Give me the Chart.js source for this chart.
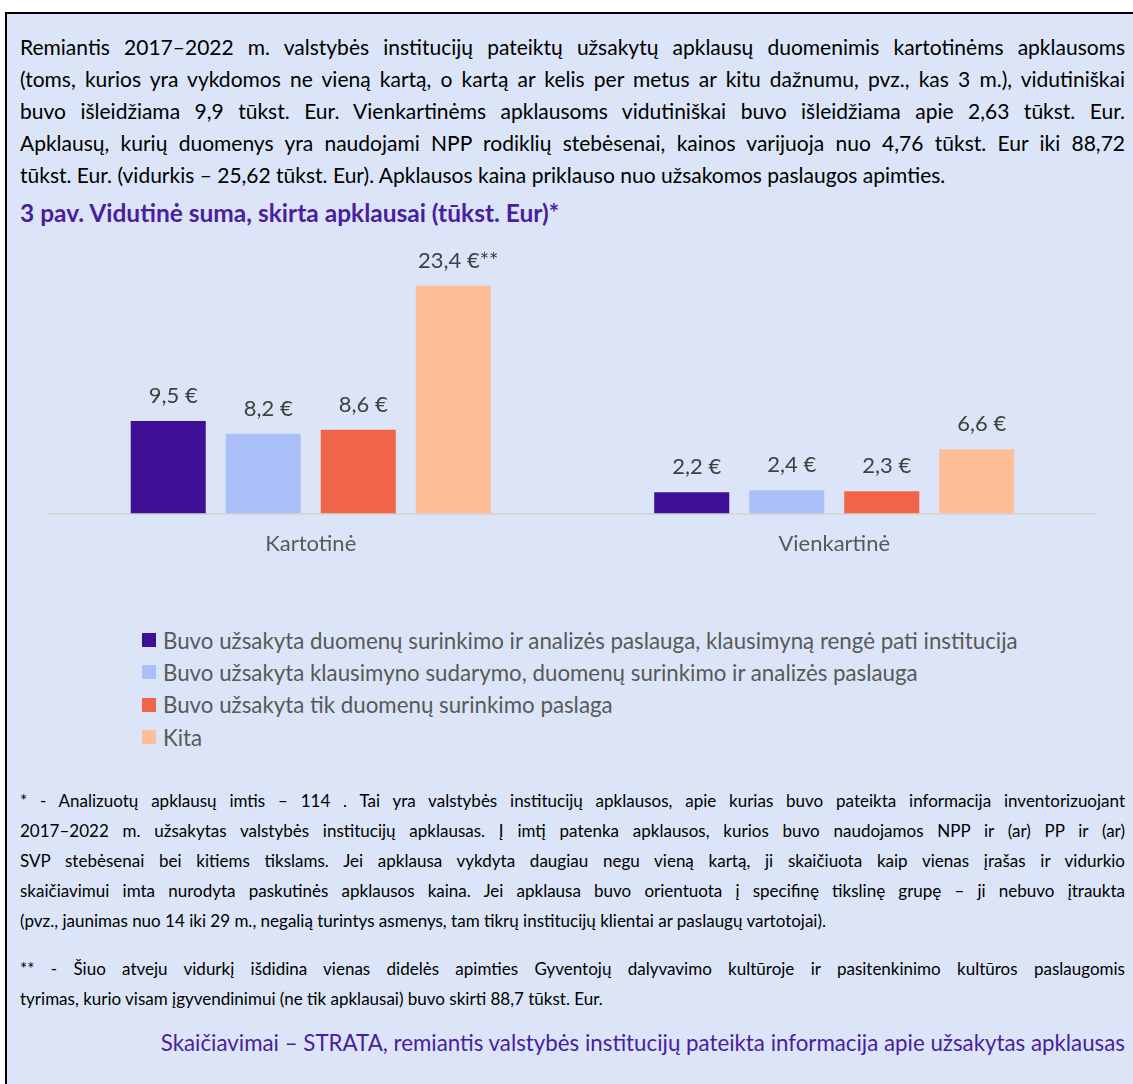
<!DOCTYPE html>
<html lang="lt">
<head>
<meta charset="utf-8">
<script src="https://cdn.jsdelivr.net/npm/chart.js@4.4.1/dist/chart.umd.min.js"></script>
<style>
  html, body { margin: 0; padding: 0; background: #ffffff; }
  body { width: 1133px; height: 1084px; position: relative; overflow: hidden; font-family: Lato, "Noto Sans", sans-serif; }
  #box {
    position: absolute; left: 5px; top: 12px; width: 1140px; height: 1100px;
    background: #dbe5f7; border-left: 2px solid #000; border-top: 2px solid #000;
  }
  .ln { position: absolute; left: 20px; width: 1105px; white-space: nowrap; text-align: justify; text-align-last: justify; color: #000; }
  .ln.last { text-align-last: left; }
  .body { font-size: 21px; line-height: 24px; }
  .foot { font-size: 17px; line-height: 22px; }
  #title { position: absolute; left: 20px; top: 200px; font-size: 24.5px; font-weight: bold; color: #4a1e9e; line-height: 26px; }
  #chartWrap { position: absolute; left: 0; top: 230px; width: 1133px; height: 360px; }
  #legend { position: absolute; left: 142px; top: 624px; }
  .lg { height: 32.3px; display: flex; align-items: center; font-size: 22.3px; color: #595959; white-space: nowrap; }
  .lg i { display: inline-block; width: 14px; height: 14px; margin-right: 7px; }
  #source { position: absolute; right: 8px; top: 1029px; font-size: 22.3px; color: #4a1e9e; white-space: nowrap; }
</style>
</head>
<body>
<div id="box"></div>

<div class="ln body" style="top:35px">Remiantis 2017–2022 m. valstybės institucijų pateiktų užsakytų apklausų duomenimis kartotinėms apklausoms</div>
<div class="ln body" style="top:67px">(toms, kurios yra vykdomos ne vieną kartą, o kartą ar kelis per metus ar kitu dažnumu, pvz., kas 3 m.), vidutiniškai</div>
<div class="ln body" style="top:99px">buvo išleidžiama 9,9 tūkst. Eur. Vienkartinėms apklausoms vidutiniškai buvo išleidžiama apie 2,63 tūkst. Eur.</div>
<div class="ln body" style="top:131px">Apklausų, kurių duomenys yra naudojami NPP rodiklių stebėsenai, kainos varijuoja nuo 4,76 tūkst. Eur iki 88,72</div>
<div class="ln body last" style="top:163px">tūkst. Eur. (vidurkis – 25,62 tūkst. Eur). Apklausos kaina priklauso nuo užsakomos paslaugos apimties.</div>

<div id="title">3 pav. Vidutinė suma, skirta apklausai (tūkst. Eur)*</div>

<div id="chartWrap"><canvas id="chart" width="1133" height="360"></canvas></div>

<div id="legend"></div>

<div class="ln foot" style="top:790px">* - Analizuotų apklausų imtis – 114 . Tai yra valstybės institucijų apklausos, apie kurias buvo pateikta informacija inventorizuojant</div>
<div class="ln foot" style="top:820px">2017–2022 m. užsakytas valstybės institucijų apklausas. Į imtį patenka apklausos, kurios buvo naudojamos NPP ir (ar) PP ir (ar)</div>
<div class="ln foot" style="top:850px">SVP stebėsenai bei kitiems tikslams. Jei apklausa vykdyta daugiau negu vieną kartą, ji skaičiuota kaip vienas įrašas ir vidurkio</div>
<div class="ln foot" style="top:880px">skaičiavimui imta nurodyta paskutinės apklausos kaina. Jei apklausa buvo orientuota į specifinę tikslinę grupę – ji nebuvo įtraukta</div>
<div class="ln foot last" style="top:910px">(pvz., jaunimas nuo 14 iki 29 m., negalią turintys asmenys, tam tikrų institucijų klientai ar paslaugų vartotojai).</div>
<div class="ln foot" style="top:958px">** - Šiuo atveju vidurkį išdidina vienas didelės apimties Gyventojų dalyvavimo kultūroje ir pasitenkinimo kultūros paslaugomis</div>
<div class="ln foot last" style="top:988px">tyrimas, kurio visam įgyvendinimui (ne tik apklausai) buvo skirti 88,7 tūkst. Eur.</div>

<div id="source">Skaičiavimai – STRATA, remiantis valstybės institucijų pateikta informacija apie užsakytas apklausas</div>

<script>
// ---- data ----
const categories = ["Kartotinė", "Vienkartinė"];
const seriesNames = [
  "Buvo užsakyta duomenų surinkimo ir analizės paslauga, klausimyną rengė pati institucija",
  "Buvo užsakyta klausimyno sudarymo, duomenų surinkimo ir analizės paslauga",
  "Buvo užsakyta tik duomenų surinkimo paslaga",
  "Kita"
];
const ownQuestionnaire = [9.5, 2.2];
const fullService = [8.2, 2.4];
const collectionOnly = [8.6, 2.3];
const other = [23.4, 6.6];
// footnote marks next to the value labels
const otherNotes = ["**", ""];

const seriesColors = ["#3f0f96", "#aabff8", "#f0654a", "#ffbd98"];

// ---- value labels above bars ----
const valueLabels = {
  id: "valueLabels",
  afterDatasetsDraw(chart) {
    const ctx = chart.ctx;
    ctx.save();
    ctx.font = "22px Lato, sans-serif";
    ctx.fillStyle = "#404040";
    ctx.textAlign = "center";
    ctx.textBaseline = "alphabetic";
    chart.data.datasets.forEach((ds, di) => {
      const meta = chart.getDatasetMeta(di);
      meta.data.forEach((bar, i) => {
        const note = ds.notes ? ds.notes[i] : "";
        const txt = String(ds.data[i]).replace(".", ",") + " €" + note;
        ctx.fillText(txt, bar.x + 5, bar.y - 18);
      });
    });
    ctx.restore();
  }
};

const datasets = [ownQuestionnaire, fullService, collectionOnly, other].map((vals, i) => ({
  label: seriesNames[i],
  data: vals,
  backgroundColor: seriesColors[i],
  categoryPercentage: 0.726,
  barPercentage: 0.79
}));
datasets[3].notes = otherNotes;

const chart = new Chart(document.getElementById("chart"), {
  type: "bar",
  data: { labels: categories, datasets: datasets },
  options: {
    responsive: false,
    animation: false,
    layout: { padding: { left: 49, right: 37, top: 11, bottom: 16 } },
    scales: {
      x: {
        grid: { display: false, drawTicks: false },
        border: { display: true, color: "#d6d6d6", width: 2 },
        ticks: { color: "#595959", font: { family: "Lato", size: 22 }, padding: 17 }
      },
      y: { display: false, min: 0, max: 28 }
    },
    plugins: {
      legend: { display: false },
      tooltip: { enabled: false }
    }
  },
  plugins: [valueLabels]
});

// legend built from the chart's datasets
const legendDiv = document.getElementById("legend");
chart.data.datasets.forEach(ds => {
  const row = document.createElement("div");
  row.className = "lg";
  const sw = document.createElement("i");
  sw.style.background = ds.backgroundColor;
  row.appendChild(sw);
  row.appendChild(document.createTextNode(ds.label));
  legendDiv.appendChild(row);
});
</script>
</body>
</html>
